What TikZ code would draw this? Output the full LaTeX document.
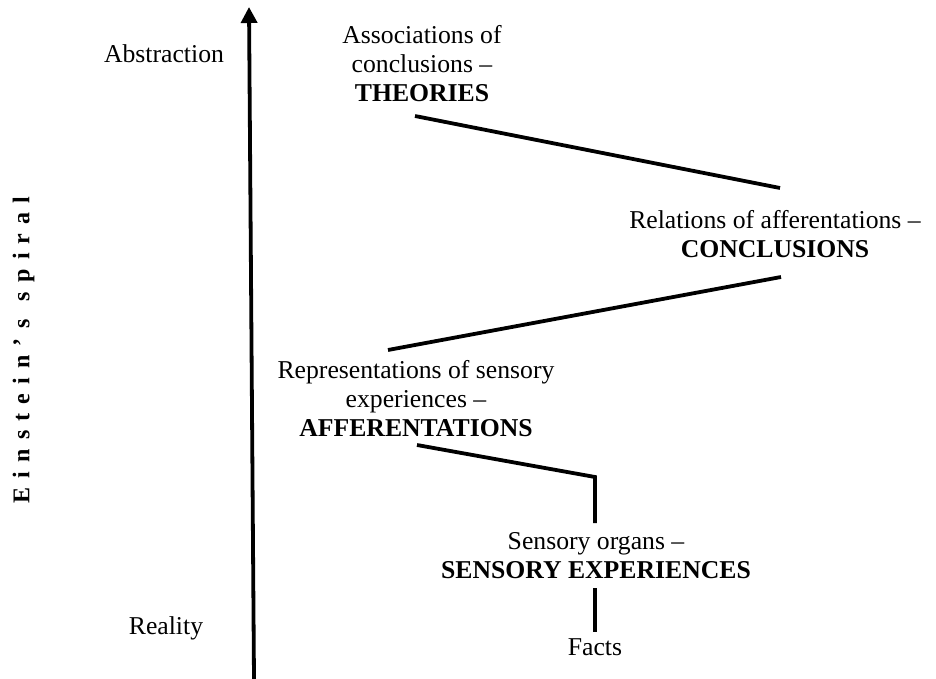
\documentclass[tikz,border=0pt]{standalone}
\usepackage{fontspec}
\setmainfont{Liberation Serif}
\usetikzlibrary{arrows.meta}
\newcommand{\ls}{\hspace{9.2pt}}
\begin{document}
\begin{tikzpicture}[x=1pt,y=-1pt,
  lbl/.style={inner sep=0pt, align=center, font=\fontsize{25.7}{29}\selectfont},
  conn/.style={line width=3.8pt},
  axis/.style={line width=3.8pt, -{Triangle[width=16pt,length=16pt]}},
]
\useasboundingbox (0,0) rectangle (936,679);
% labels
\node[lbl] (abs) at (164,54) {Abstraction};
\node[lbl] (real) at (166,628) {Reality};
\node[lbl] (theo) at (422,64) {Associations of\\conclusions –\\\textbf{THEORIES}};
\node[lbl] (conc) at (775,234) {Relations of afferentations –\\\textbf{CONCLUSIONS}};
\node[lbl] (aff) at (416,399) {Representations of sensory\\experiences –\\\textbf{AFFERENTATIONS}};
\node[lbl] (sens) at (596,556) {Sensory organs –\\\textbf{SENSORY EXPERIENCES}};
\node[lbl] (facts) at (595,647) {Facts};
\node[inner sep=0pt, rotate=90, font=\fontsize{24}{28}\selectfont\bfseries] (spiral) at (23.5,350)
  {E\ls i\ls n\ls s\ls t\ls e\ls i\ls n\ls ’\ls s\ls\ls s\ls p\ls i\ls r\ls a\ls l};
% axis
\coordinate (axb) at (254,679);
\coordinate (axt) at (249,7);
\draw[axis] (axb) -- (axt);
% connector end points
\coordinate (t1) at (415,116);
\coordinate (c1) at (780,188);
\coordinate (c2) at (781,277);
\coordinate (a1) at (388,350);
\coordinate (a2) at (417,445);
\coordinate (bend) at (595,477);
\coordinate (s1) at (595,523);
\coordinate (s2) at (595,588);
\coordinate (f1) at (595,632);
\draw[conn] (t1) -- (c1);
\draw[conn] (c2) -- (a1);
\draw[conn] (a2) -- (bend) -- (s1);
\draw[conn] (s2) -- (f1);
\end{tikzpicture}
\end{document}
